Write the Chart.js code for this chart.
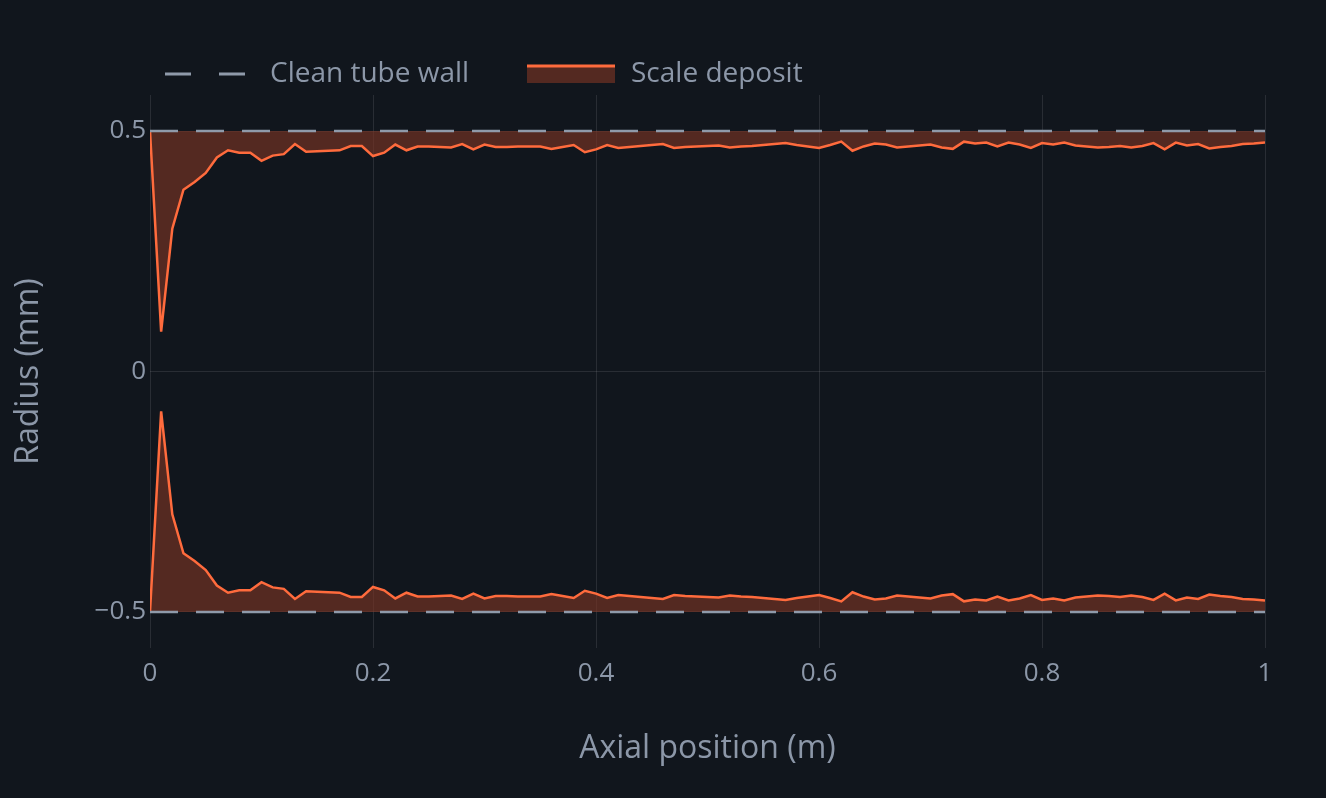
<!DOCTYPE html>
<html><head><meta charset="utf-8">
<script src="https://cdn.jsdelivr.net/npm/chart.js@4"></script>
<style>html,body{margin:0;background:#11161d;}#w{width:1326px;height:798px;}</style>
</head><body><div id="w"><canvas id="c"></canvas></div>
<script>
const xs = [];
for (let i = 0; i <= 100; i++) xs.push(i / 100);
const scaleTop = [0.5,0.083,0.297,0.378,0.394,0.413,0.445,0.460,0.455,0.455,
0.438,0.449,0.452,0.473,0.457,0.458,0.459,0.460,0.469,0.469,
0.448,0.455,0.472,0.460,0.468,0.468,0.467,0.466,0.473,0.462,
0.472,0.467,0.467,0.468,0.468,0.468,0.463,0.467,0.471,0.456,
0.462,0.471,0.465,0.467,0.469,0.471,0.473,0.465,0.467,0.468,
0.469,0.470,0.466,0.468,0.469,0.471,0.473,0.475,0.471,0.468,
0.465,0.471,0.478,0.459,0.468,0.474,0.472,0.466,0.468,0.470,
0.472,0.466,0.463,0.478,0.474,0.476,0.468,0.476,0.472,0.465,
0.475,0.472,0.476,0.470,0.468,0.466,0.467,0.469,0.466,0.469,
0.475,0.462,0.476,0.470,0.473,0.464,0.467,0.469,0.473,0.474,0.476];
const scaleBottom = scaleTop.map(v => -v);
const wallTop = xs.map(() => 0.5);
const wallBottom = xs.map(() => -0.5);
const xTicks = [0, 0.2, 0.4, 0.6, 0.8, 1];
const yTicks = [-0.5, 0, 0.5];
const legendLabels = ['Clean tube wall', 'Scale deposit'];

const pts = arr => arr.map((v, i) => ({x: xs[i], y: v}));
const txt = '#8c97a8', grid = 'rgba(255,255,255,0.10)', orange = '#ff6b3d', fillC = 'rgba(122,52,36,0.65)', wallC = '#8f9aaa';
const font = 'Open Sans';

const legendPlugin = {
  id:'customLegend',
  afterDraw(ch){
    const c = ch.ctx; const y = 74;
    c.save();
    c.strokeStyle = wallC; c.lineWidth = 3; c.setLineDash([26,28]);
    c.beginPath(); c.moveTo(165,y); c.lineTo(247,y); c.stroke();
    c.setLineDash([]);
    c.fillStyle = fillC; c.fillRect(527,y-9,88,18);
    c.strokeStyle = orange; c.lineWidth = 3;
    c.beginPath(); c.moveTo(527,y-8); c.lineTo(615,y-8); c.stroke();
    c.fillStyle = txt; c.font = '28px "' + font + '"'; c.textBaseline = 'middle';
    c.fillText(legendLabels[0], 270, y);
    c.fillText(legendLabels[1], 631, y);
    c.restore();
  }
};

new Chart(document.getElementById('c'), {
  type: 'line',
  plugins:[legendPlugin],
  data: { datasets: [
    {label:legendLabels[0], data: pts(wallTop), borderColor:wallC, borderDash:[28,18], borderWidth:2.5, pointRadius:0, fill:false, order:0},
    {label:'wall2', data: pts(wallBottom), borderColor:wallC, borderDash:[28,18], borderWidth:2.5, pointRadius:0, fill:false, order:0},
    {label:legendLabels[1], data: pts(scaleTop), borderColor:orange, backgroundColor:fillC, borderWidth:2.5, pointRadius:0, fill:{value:0.5}, tension:0, order:1},
    {label:'dep2', data: pts(scaleBottom), borderColor:orange, backgroundColor:fillC, borderWidth:2.5, pointRadius:0, fill:{value:-0.5}, tension:0, order:1}
  ]},
  options: {
    responsive:true, maintainAspectRatio:false, animation:false,
    layout:{padding:{left:0,right:61,top:95,bottom:0}},
    plugins:{ tooltip:{enabled:false}, legend:{display:false} },
    scales:{
      x:{type:'linear', min:0, max:1,
        afterBuildTicks: s => { s.ticks = xTicks.map(v=>({value:v})); },
        afterFit: s => { s.height = 150; },
        grid:{color:grid, drawTicks:false}, border:{display:false},
        ticks:{color:txt, font:{size:26, family:font}, padding:10, callback:v=>String(v)},
        title:{display:true, text:'Axial position (m)', color:txt, font:{size:32, family:font}, padding:{top:20, bottom:30}}},
      y:{type:'linear', min:-0.575, max:0.575,
        afterBuildTicks: s => { s.ticks = yTicks.map(v=>({value:v})); },
        afterFit: s => { s.width = 150; },
        grid:{color:grid, drawTicks:false}, border:{display:false},
        ticks:{color:txt, font:{size:26, family:font}, padding:4, callback:v=> v<0 ? '\u2212'+Math.abs(v) : String(v)},
        title:{display:true, text:'Radius (mm)', color:txt, font:{size:32, family:font}, padding:{top:10, bottom:10}}}
    }
  }
});
</script></body></html>
